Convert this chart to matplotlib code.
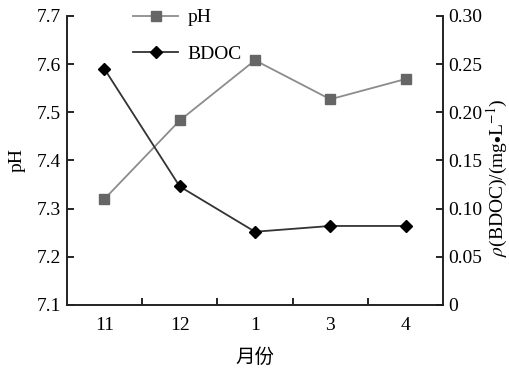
import numpy as np
import matplotlib
matplotlib.use('Agg')
import matplotlib.pyplot as plt

plt.rcParams['font.family'] = ['Liberation Serif', 'Noto Sans CJK SC']
plt.rcParams['mathtext.fontset'] = 'stix'

# data
months = ['11', '12', '1', '3', '4']
ph = [7.32, 7.483, 7.608, 7.527, 7.569]
bdoc = [0.245, 0.123, 0.076, 0.082, 0.082]

x = np.arange(len(months))

fig = plt.figure(figsize=(5.1, 3.71), dpi=100)
ax = fig.add_axes([0.131, 0.178, 0.738, 0.779])
ax2 = ax.twinx()

l1, = ax.plot(x, ph, color='#8c8c8c', lw=1.3, marker='s', ms=6.5,
              mfc='#666666', mec='#666666', label='pH')
l2, = ax2.plot(x, bdoc, color='#333333', lw=1.3, marker='D', ms=6.5,
               mfc='black', mec='black', label='BDOC')

ax.set_xlim(-0.5, 4.5)
ax.set_ylim(7.1, 7.7)
ax2.set_ylim(0, 0.30)
ax.set_yticks(np.arange(7.1, 7.71, 0.1))
ax.set_yticklabels(['%.1f' % v for v in np.arange(7.1, 7.71, 0.1)])
ax2.set_yticks(np.arange(0, 0.31, 0.05))
ax2.set_yticklabels(['0'] + ['%.2f' % v for v in np.arange(0.05, 0.31, 0.05)])

# category labels without marks, inward marks between categories
ax.set_xticks(x)
ax.set_xticklabels(months)
ax.set_xticks(x[:-1] + 0.5, minor=True)
ax.tick_params(axis='x', which='major', length=0, pad=9, labelsize=14)
ax.tick_params(axis='x', which='minor', direction='in', length=5, width=1.2)
ax.tick_params(axis='y', direction='in', length=5, width=1.2, labelsize=14, pad=4)
ax2.tick_params(axis='y', direction='in', length=5, width=1.2, labelsize=14, pad=4)

for a in (ax, ax2):
    a.spines['top'].set_visible(False)
    for s in ('left', 'right', 'bottom'):
        a.spines[s].set_linewidth(1.2)
        a.spines[s].set_color('#222222')

ax.set_xlabel('月份', fontsize=14, family='Noto Sans CJK SC', labelpad=9)
ax.set_ylabel('pH', fontsize=14, labelpad=8)
ax2.set_ylabel(r'$\rho$(BDOC)/(mg$\bullet$L$^{-1}$)', fontsize=14,
               rotation=90, ha='center', va='center')
ax2.yaxis.set_label_coords(1.144, 0.44)

ax2.legend([l1, l2], ['pH', 'BDOC'], loc='upper left', bbox_to_anchor=(0.13, 1.085),
           frameon=False, fontsize=14, handlelength=2.3, labelspacing=0.95,
           handletextpad=0.5)

fig.savefig('out.png', dpi=100)
